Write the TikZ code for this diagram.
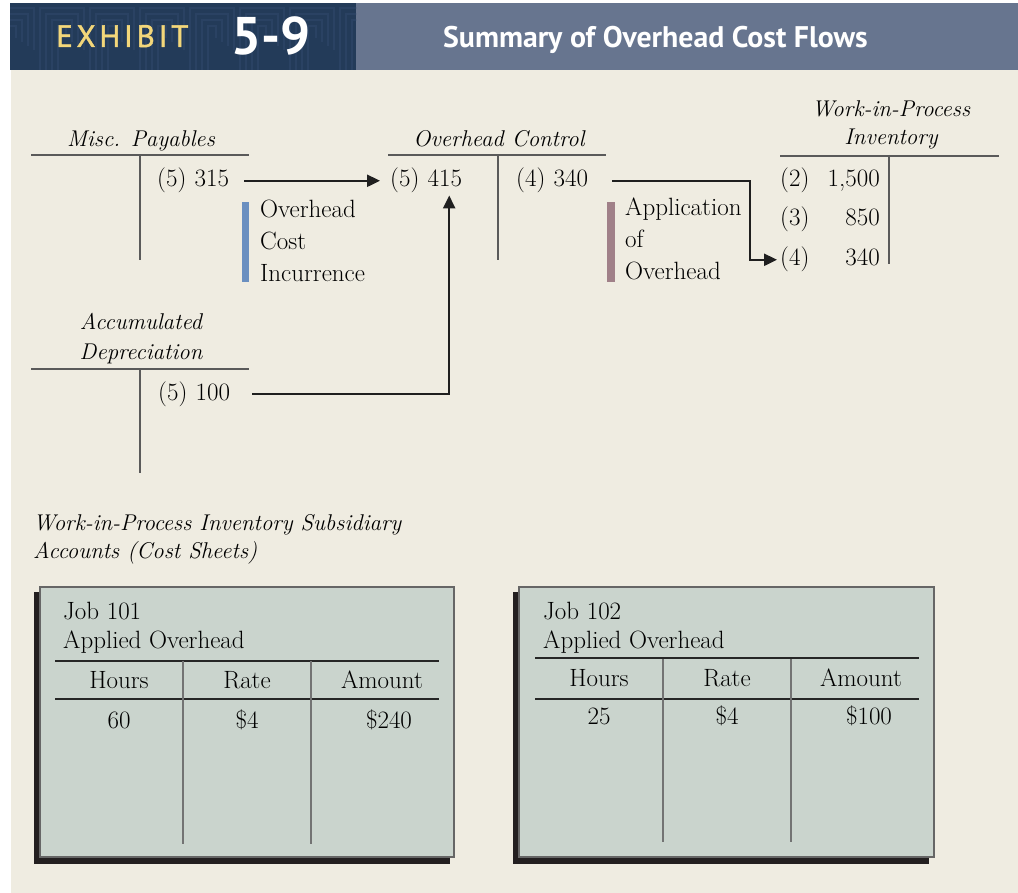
\documentclass[tikz,border=0pt]{standalone}
\usepackage{fontspec}
\newfontfamily\hdr{PT Sans}
\usetikzlibrary{arrows.meta,calc}
\definecolor{cream}{HTML}{EFECE1}
\definecolor{slate}{HTML}{67758F}
\definecolor{navy}{HTML}{233B59}
\definecolor{navyl}{HTML}{2A4263}
\definecolor{gold}{HTML}{F3D77A}
\definecolor{sheet}{HTML}{CAD4CD}
\definecolor{shadowcol}{HTML}{231F20}
\definecolor{barblue}{HTML}{6A8FC0}
\definecolor{barmauve}{HTML}{A08088}
\definecolor{tline}{HTML}{5A5A5A}
\tikzset{
  tacct/.style={draw=tline, line width=1.1pt},
  flow/.style={draw=black!88, line width=2.4pt, -{Triangle[length=13pt,width=12pt]}},
  txt/.style={inner sep=0pt, font=\fontsize{25}{32}\selectfont},
  ttl/.style={inner sep=0pt, font=\fontsize{22.8}{28}\selectfont\itshape},
  entry/.style={txt, text width=81pt, align=left, anchor=base west},
  sheetbox/.style={fill=sheet, draw=black!60, line width=1.2pt},
  sheetrule/.style={draw=black!85, line width=1.2pt},
  sheetcol/.style={draw=black!55, line width=1.5pt},
}
\begin{document}
\begin{tikzpicture}[x=1pt,y=-1pt]
\useasboundingbox (0,0) rectangle (1018,893);
\fill[white] (0,0) rectangle (1018,893);
\fill[cream] (11,70) rectangle (1018,893);
% header
\fill[slate] (356,3) rectangle (1018,70);
\fill[navy] (10,3) rectangle (356,70);
\begin{scope}
\clip (10,3) rectangle (356,70);
\foreach \cx in {-10,40,...,370} {
  \foreach \k in {0,1,2,3} {
    \draw[navyl, line width=2.2pt] ({\cx+\k*6},75) -- ({\cx+\k*6},{8+\k*6}) -- ({\cx+44-\k*6},{8+\k*6}) -- ({\cx+44-\k*6},{50-\k*4});
  }
}
\end{scope}
\node[inner sep=0pt, anchor=base west, text=gold, font={\hdr\fontsize{31}{34}\selectfont\addfontfeatures{LetterSpace=12,FakeBold=1.4}}] (exh) at (56,47) {EXHIBIT};
\node[inner sep=0pt, anchor=base west, text=white, font={\hdr\bfseries\fontsize{53}{56}\selectfont}] (num) at (231,55) {5-9};
\node[inner sep=0pt, anchor=base west, text=white, font={\hdr\bfseries\fontsize{29.8}{32}\selectfont}] (title) at (443,48) {Summary of Overhead Cost Flows};

% Misc. Payables
\node[ttl, anchor=base] (mpT) at (141,147) {Misc. Payables};
\draw[tacct] (31,155) -- (249,155) (140,155) -- (140,260);
\node[entry] (mp5) at (157,187) {(5) 315};

% Overhead Control
\node[ttl, anchor=base] (ocT) at (499,147) {Overhead Control};
\draw[tacct] (388,155) -- (606,155) (498,155) -- (498,260);
\node[entry] (oc5) at (390,187) {(5) 415};
\node[entry] (oc4) at (516,187) {(4) 340};

% WIP Inventory
\node[ttl, anchor=base] (wipT1) at (891,117) {Work-in-Process};
\node[ttl, anchor=base] (wipT2) at (891,145) {Inventory};
\draw[tacct] (780,156) -- (999,156) (889,155) -- (889,264);
\node[txt, anchor=base west] (w2) at (780,187) {(2)};
\node[txt, anchor=base east] (w2v) at (880,187) {1,500};
\node[txt, anchor=base west] (w3) at (780,226) {(3)};
\node[txt, anchor=base east] (w3v) at (880,226) {850};
\node[txt, anchor=base west] (w4) at (780,266) {(4)};
\node[txt, anchor=base east] (w4v) at (880,266) {340};

% Accumulated Depreciation
\node[ttl, anchor=base] (adT1) at (141,330) {Accumulated};
\node[ttl, anchor=base] (adT2) at (141,360) {Depreciation};
\draw[tacct] (31,369) -- (249,369) (140,369) -- (140,473);
\node[entry] (ad5) at (158,400) {(5) 100};

% labels with bars
\fill[barblue] (242,202) rectangle (249,282);
\node[txt, anchor=base west] (inc1) at (260,218) {Overhead};
\node[txt, anchor=base west] (inc2) at (260,250) {Cost};
\node[txt, anchor=base west] (inc3) at (260,282) {Incurrence};
\fill[barmauve] (607,202) rectangle (615,282);
\node[txt, anchor=base west] (app1) at (625,216) {Application};
\node[txt, anchor=base west] (app2) at (625,248) {of};
\node[txt, anchor=base west] (app3) at (625,280) {Overhead};

% flows
\draw[flow, shorten <=6pt, shorten >=10pt] (mp5.east) -- (oc5.west);
\draw[flow, shorten <=13pt, shorten >=2pt] (ad5.east) -| ($(oc5.south)+(18.5,0)$);
\coordinate (bend) at (750,180);
\draw[flow, shorten <=15pt, shorten >=3pt] (oc4.east) -- (oc4.east -| bend) |- (w4.west);

% subsidiary title
\node[ttl, anchor=base west] (subT1) at (33,530) {Work-in-Process Inventory Subsidiary};
\node[ttl, anchor=base west] (subT2) at (33,558) {Accounts (Cost Sheets)};

% Job 101 sheet
\fill[shadowcol] (34,592) rectangle (450,864);
\filldraw[sheetbox] (40,587) rectangle (454,857);
\node[txt, anchor=base west] (j1a) at (63,619) {Job 101};
\node[txt, anchor=base west] (j1b) at (63,648) {Applied Overhead};
\draw[sheetrule] (55,661) -- (439,661) (55,699) -- (439,699);
\draw[sheetcol] (183,661) -- (183,844) (311,661) -- (311,844);
\node[txt, anchor=base] (j1h1) at (119,688) {Hours};
\node[txt, anchor=base] (j1h2) at (247,688) {Rate};
\node[txt, anchor=base] (j1h3) at (382,688) {Amount};
\node[txt, anchor=base] (j1v1) at (119,728) {60};
\node[txt, anchor=base] (j1v2) at (247,728) {\$4};
\node[txt, anchor=base] (j1v3) at (389,728) {\$240};

% Job 102 sheet
\fill[shadowcol] (513,592) rectangle (929,864);
\filldraw[sheetbox] (519,587) rectangle (934,857);
\node[txt, anchor=base west] (j2a) at (543,619) {Job 102};
\node[txt, anchor=base west] (j2b) at (543,648) {Applied Overhead};
\draw[sheetrule] (535,658) -- (919,658) (535,699) -- (919,699);
\draw[sheetcol] (663,659) -- (663,842) (791,659) -- (791,842);
\node[txt, anchor=base] (j2h1) at (599,686) {Hours};
\node[txt, anchor=base] (j2h2) at (727,686) {Rate};
\node[txt, anchor=base] (j2h3) at (861,686) {Amount};
\node[txt, anchor=base] (j2v1) at (599,724) {25};
\node[txt, anchor=base] (j2v2) at (727,724) {\$4};
\node[txt, anchor=base] (j2v3) at (869,724) {\$100};
\end{tikzpicture}
\end{document}
